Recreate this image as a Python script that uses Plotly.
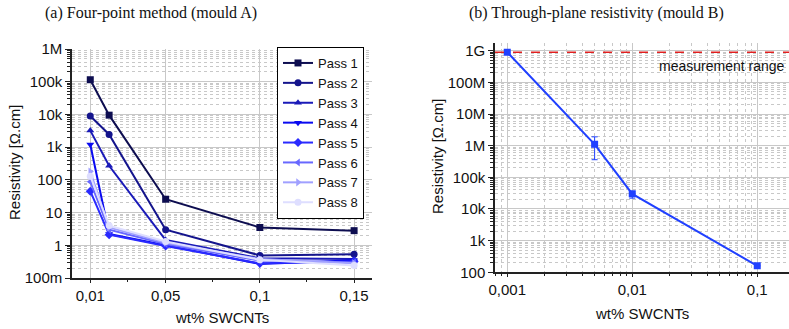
import plotly.graph_objects as go

# ---------------- data ----------------
wt_a = [0.01, 0.02, 0.05, 0.1, 0.15]
pass_names = ["Pass 1", "Pass 2", "Pass 3", "Pass 4", "Pass 5", "Pass 6", "Pass 7", "Pass 8"]
pass1 = [115000, 9500, 25.6, 3.5, 2.8]
pass2 = [8900, 2450, 3.0, 0.49, 0.53]
pass3 = [3200, 270, 1.45, 0.40, 0.38]
pass4 = [1200, 2.2, 1.0, 0.27, 0.35]
pass5 = [45, 2.1, 0.95, 0.28, 0.32]
pass6 = [88, 3.0, 1.1, 0.34, 0.30]
pass7 = [180, 3.5, 1.2, 0.38, 0.28]
pass8 = [130, 4.0, 1.3, 0.36, 0.24]
passes = [pass1, pass2, pass3, pass4, pass5, pass6, pass7, pass8]

wt_b = [0.001, 0.005, 0.01, 0.1]
res_b = [9.0e8, 1.1e6, 3.0e4, 160]
err_plus_b = [0, 0.8e6, 0.5e4, 0]
err_minus_b = [0, 0.74e6, 0.8e4, 0]
limit_b = 9.0e8

ytick_a_vals = [1e-1, 1, 10, 100, 1e3, 1e4, 1e5, 1e6]
ytick_a_text = ["100m", "1", "10", "100", "1k", "10k", "100k", "1M"]
ytick_b_vals = [1e2, 1e3, 1e4, 1e5, 1e6, 1e7, 1e8, 1e9]
ytick_b_text = ["100", "1k", "10k", "100k", "1M", "10M", "100M", "1G"]
xtick_a_vals = [0.01, 0.05, 0.1, 0.15]
xtick_a_text = ["0,01", "0,05", "0,1", "0,15"]
xminor_a_vals = [0.03, 0.075, 0.125]
xtick_b_vals = [0.001, 0.01, 0.1]
xtick_b_text = ["0,001", "0,01", "0,1"]

# ---------------- style ----------------
colors = ["#0d0d50", "#14148c", "#1a1ab8", "#0a0af0", "#2a2aff", "#6868ff", "#a0a0ff", "#dedeff"]
symbols = ["square", "circle", "triangle-up", "triangle-down", "diamond",
           "triangle-left", "triangle-right", "circle"]
FONT = "Liberation Sans, Arial, sans-serif"
W, H = 789, 329

fig = go.Figure()
for name, vals, c, s in zip(pass_names, passes, colors, symbols):
    fig.add_trace(go.Scatter(
        x=wt_a, y=vals, name=name, mode="lines+markers",
        line=dict(color=c, width=2), marker=dict(symbol=s, size=7, color=c),
        xaxis="x", yaxis="y"))

fig.add_trace(go.Scatter(
    x=wt_b, y=res_b, mode="lines+markers", showlegend=False,
    line=dict(color="#2040ff", width=2), marker=dict(symbol="square", size=7, color="#2040ff"),
    error_y=dict(type="data", array=err_plus_b, arrayminus=err_minus_b,
                 color="#2040ff", thickness=1, width=3),
    xaxis="x2", yaxis="y2"))

grid = "#c8c8c8"
axis_common = dict(showline=True, linecolor="#222", linewidth=1.5,
                   ticks="outside", tickcolor="#222",
                   tickfont=dict(family=FONT, size=15, color="#111"),
                   gridcolor=grid, gridwidth=1, zeroline=False, automargin=False)

fig.update_layout(
    width=W, height=H, margin=dict(l=0, r=0, t=0, b=0, autoexpand=False),
    paper_bgcolor="white", plot_bgcolor="white",
    font=dict(family=FONT, size=15, color="#111"),
    xaxis=dict(domain=[72 / W, 372 / W], anchor="y", range=[0.0003, 0.1595],
               tickvals=xtick_a_vals, ticktext=xtick_a_text, ticklen=3,
               minor=dict(tickvals=xminor_a_vals, ticks="outside", ticklen=2, tickcolor="#222"),
               **axis_common),
    yaxis=dict(domain=[(H - 278) / H, (H - 49) / H], anchor="x", type="log", range=[-1, 6],
               tickvals=ytick_a_vals, ticktext=ytick_a_text, ticklen=5,
               minor=dict(dtick="D1", ticks="outside", ticklen=3, tickcolor="#222",
                          showgrid=True, gridcolor=grid, griddash="dot", gridwidth=1),
               **axis_common),
    xaxis2=dict(domain=[495 / W, 1.0], anchor="y2", type="log", range=[-3.098, -0.746],
                tickvals=xtick_b_vals, ticktext=xtick_b_text, ticklen=3,
                minor=dict(dtick="D1", ticks="outside", ticklen=2, tickcolor="#222",
                           showgrid=True, gridcolor=grid, griddash="dot", gridwidth=1),
                **axis_common),
    yaxis2=dict(domain=[(H - 272.3) / H, (H - 43.3) / H], anchor="x2", type="log", range=[2, 9.233],
                tickvals=ytick_b_vals, ticktext=ytick_b_text, ticklen=5,
                minor=dict(dtick="D1", ticks="outside", ticklen=3, tickcolor="#222",
                           showgrid=True, gridcolor=grid, griddash="dot", gridwidth=1),
                **axis_common),
    legend=dict(x=277 / W, y=(H - 47) / H, xanchor="left", yanchor="top",
                bgcolor="white", bordercolor="black", borderwidth=1,
                font=dict(family=FONT, size=13, color="#111"),
                tracegroupgap=0, itemwidth=30),
    showlegend=True,
)

fig.add_shape(type="line", xref="x2 domain", yref="y2", x0=0, x1=1, y0=limit_b, y1=limit_b,
              line=dict(color="#e02020", width=1.5, dash="dash"))

ann = []
serif = dict(family="Liberation Serif, Times New Roman, serif", size=16, color="#111")
ann.append(dict(text="(a) Four-point method (mould A)", x=151 / W, y=1 - 13 / H,
                xanchor="center", yanchor="middle",
                xref="paper", yref="paper", showarrow=False, font=serif))
ann.append(dict(text="(b) Through-plane resistivity (mould B)", x=596 / W, y=1 - 13 / H,
                xanchor="center", yanchor="middle",
                xref="paper", yref="paper", showarrow=False, font=serif))
ann.append(dict(text="Resistivity [Ω.cm]", x=14 / W, y=1 - 163 / H, textangle=-90,
                xanchor="center", yanchor="middle",
                xref="paper", yref="paper", showarrow=False))
ann.append(dict(text="Resistivity [Ω.cm]", x=437 / W, y=1 - 157 / H, textangle=-90,
                xanchor="center", yanchor="middle",
                xref="paper", yref="paper", showarrow=False))
ann.append(dict(text="wt% SWCNTs", x=222 / W, y=1 - 317 / H,
                xanchor="center", yanchor="middle",
                xref="paper", yref="paper", showarrow=False))
ann.append(dict(text="wt% SWCNTs", x=642 / W, y=1 - 313 / H,
                xanchor="center", yanchor="middle",
                xref="paper", yref="paper", showarrow=False))
ann.append(dict(text="measurement range", x=787 / W, y=1 - 66 / H,
                xanchor="right", yanchor="middle",
                xref="paper", yref="paper", showarrow=False, font=dict(size=14)))
fig.update_layout(annotations=ann)

fig.write_html("out.html", config={"displayModeBar": False},
               post_script="document.body.style.margin='0';document.body.style.padding='0';")
